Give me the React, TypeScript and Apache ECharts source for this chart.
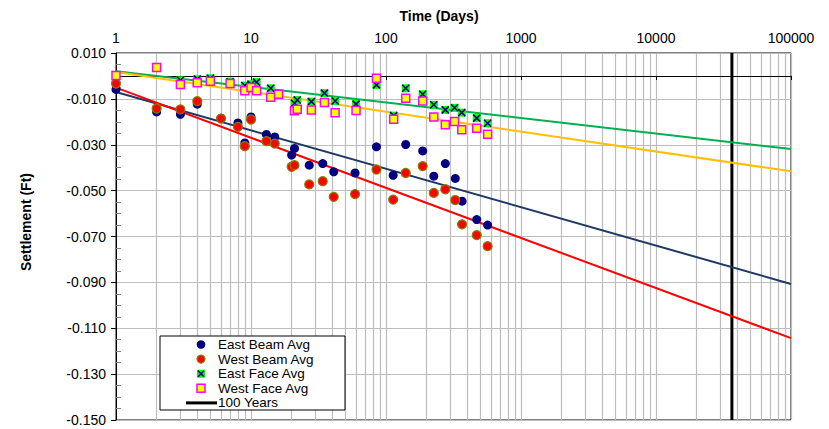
import React, { useEffect, useRef } from 'react';
import * as echarts from 'echarts';

const FONT = '"Liberation Sans", Arial, Helvetica, sans-serif';

// Beam measurement days and values (ft)
const beamDays = [1, 2, 3, 4, 6, 8, 9, 10, 13, 15, 20, 21, 27, 34, 41, 59, 85, 113, 140, 187, 226, 275, 326, 366, 470, 566];
const eastBeam = [-0.0059, -0.0157, -0.0167, -0.0123, -0.0184, -0.0205, -0.0292, -0.0179, -0.0255, -0.0266, -0.0345, -0.0316, -0.0389, -0.0382, -0.0418, -0.0423, -0.0309, -0.0433, -0.0299, -0.0327, -0.0437, -0.0382, -0.0447, -0.0546, -0.0626, -0.065];
const westBeam = [-0.0033, -0.0142, -0.0146, -0.011, -0.0186, -0.0222, -0.0306, -0.019, -0.0284, -0.0295, -0.0396, -0.0389, -0.0473, -0.0459, -0.0527, -0.0515, -0.0408, -0.0539, -0.0423, -0.0393, -0.051, -0.0494, -0.0541, -0.0647, -0.0694, -0.0742];

// Face measurement days and values (ft)
const eastFaceDays = [1, 3, 4, 5, 7, 9, 10, 11, 14, 21, 22, 28, 35, 42, 60, 85, 114, 140, 187, 226, 275, 322, 364, 470, 566];
const eastFace = [0.0, -0.0019, -0.0014, -0.001, -0.0025, -0.0042, -0.0036, -0.0027, -0.0054, -0.0119, -0.0105, -0.0112, -0.0075, -0.0109, -0.0123, -0.0039, -0.0173, -0.0054, -0.008, -0.0126, -0.0148, -0.0139, -0.016, -0.0184, -0.0206];
const westFaceDays = [1, 2, 3, 4, 5, 7, 9, 10, 11, 14, 16, 21, 22, 28, 35, 42, 60, 85, 114, 140, 187, 226, 275, 322, 364, 470, 566];
const westFace = [0.0002, 0.0037, -0.0037, -0.003, -0.0023, -0.0033, -0.0065, -0.005, -0.0065, -0.0093, -0.008, -0.0152, -0.0145, -0.0148, -0.0116, -0.016, -0.0151, -0.001, -0.0189, -0.0097, -0.0109, -0.0179, -0.0213, -0.0199, -0.0235, -0.0228, -0.0254];

// Logarithmic trend lines (end points at 1 and 100000 days)
const trendDays = [1, 100000];
const eastBeamTrend = [-0.007, -0.0907];
const westBeamTrend = [-0.0051, -0.1143];
const eastFaceTrend = [0.002, -0.0319];
const westFaceTrend = [0.0017, -0.0416];

// 100 years marker
const hundredYearsDay = 36500;
const yRange = [-0.15, 0.01];

// Axis settings
const xDecades = [1, 10, 100, 1000, 10000];
const xMinorSteps = [2, 3, 4, 5, 6, 7, 8, 9];
const xMin = 1;
const xMax = 100000;
const yInterval = 0.02;

const legendNames = ['East Beam Avg', 'West Beam Avg', 'East Face Avg', 'West Face Avg', '100 Years'];

const zip = (xs: number[], ys: number[]) => xs.map((x, i) => [x, ys[i]]);

export default function App() {
  const ref = useRef<HTMLDivElement>(null);

  useEffect(() => {
    const chart = echarts.init(ref.current!, undefined, { renderer: 'svg' });

    const minorGrid: number[] = [];
    xDecades.forEach((d) => xMinorSteps.forEach((m) => minorGrid.push(d * m)));

    const legendX = 160;
    const legendY = 336;
    const rowY = (i: number) => legendY + 8.5 + i * 14.6;
    const markX = 201;
    const textX = 218;

    const legendGraphics: any[] = [
      {
        type: 'rect',
        shape: { x: legendX, y: legendY, width: 185, height: 74 },
        style: { fill: '#fff', stroke: '#000', lineWidth: 1 },
        z: 100,
      },
      {
        type: 'circle',
        shape: { cx: markX, cy: rowY(0), r: 4.3 },
        style: { fill: '#000080' },
        z: 101,
      },
      {
        type: 'circle',
        shape: { cx: markX, cy: rowY(1), r: 4 },
        style: { fill: '#ff0000', stroke: '#808000', lineWidth: 1.2 },
        z: 101,
      },
      {
        type: 'rect',
        shape: { x: markX - 4, y: rowY(2) - 4, width: 8, height: 8 },
        style: { fill: '#00ff00' },
        z: 101,
      },
      {
        type: 'line',
        shape: { x1: markX - 3, y1: rowY(2) - 3, x2: markX + 3, y2: rowY(2) + 3 },
        style: { stroke: '#000080', lineWidth: 1.5 },
        z: 102,
      },
      {
        type: 'line',
        shape: { x1: markX + 3, y1: rowY(2) - 3, x2: markX - 3, y2: rowY(2) + 3 },
        style: { stroke: '#000080', lineWidth: 1.5 },
        z: 102,
      },
      {
        type: 'rect',
        shape: { x: markX - 4, y: rowY(3) - 4, width: 8, height: 8 },
        style: { fill: '#ffff00', stroke: '#ff00ff', lineWidth: 1.5 },
        z: 101,
      },
      {
        type: 'line',
        shape: { x1: 186, y1: rowY(4), x2: 217, y2: rowY(4) },
        style: { stroke: '#000', lineWidth: 3 },
        z: 101,
      },
      ...legendNames.map((name, i) => ({
        type: 'text',
        x: textX,
        y: rowY(i),
        style: {
          text: name,
          font: `13.5px ${FONT}`,
          lineHeight: 14,
          fill: '#000',
          textAlign: 'left',
          textVerticalAlign: 'middle',
        },
        z: 101,
      })),
    ];

    const option: any = {
      animation: false,
      backgroundColor: '#fff',
      textStyle: { fontFamily: FONT },
      grid: {
        left: 116,
        right: 38,
        top: 53,
        bottom: 9,
        show: true,
        borderColor: '#000',
        borderWidth: 1,
        backgroundColor: 'transparent',
      },
      xAxis: {
        type: 'log',
        logBase: 10,
        min: xMin,
        max: xMax,
        position: 'top',
        axisLine: { show: true, lineStyle: { color: '#000', width: 1 } },
        axisTick: { show: true, inside: true, length: 4, lineStyle: { color: '#000' } },
        axisLabel: {
          show: true,
          margin: 8,
          fontSize: 14,
          color: '#000',
          fontFamily: FONT,
          formatter: (v: number) => String(Math.round(v)),
        },
        splitLine: { show: true, lineStyle: { color: '#bdbdbd', width: 1.2 } },
      },
      yAxis: {
        type: 'value',
        min: yRange[0],
        max: yRange[1],
        interval: yInterval,
        axisLine: { show: true, onZero: false, lineStyle: { color: '#000', width: 1 } },
        axisTick: { show: true, inside: false, length: 5, lineStyle: { color: '#000' } },
        minorTick: { show: true, splitNumber: 4, length: -5, lineStyle: { color: '#808080' } },
        axisLabel: {
          margin: 10,
          fontSize: 14,
          color: '#000',
          fontFamily: FONT,
          formatter: (v: number) => v.toFixed(3),
        },
        splitLine: { show: true, lineStyle: { color: '#bdbdbd', width: 1.2 } },
      },
      graphic: [
        {
          type: 'text',
          x: 439,
          y: 16,
          style: {
            text: 'Time (Days)',
            font: `bold 14px ${FONT}`,
            fill: '#000',
            textAlign: 'center',
            textVerticalAlign: 'middle',
          },
        },
        {
          type: 'text',
          x: 26,
          y: 222,
          rotation: Math.PI / 2,
          style: {
            text: 'Settlement (Ft)',
            font: `bold 14px ${FONT}`,
            fill: '#000',
            textAlign: 'center',
            textVerticalAlign: 'middle',
          },
        },
        ...legendGraphics,
      ],
      series: [
        {
          name: 'gridlines',
          type: 'line',
          data: [],
          silent: true,
          z: 1,
          markLine: {
            silent: true,
            symbol: ['none', 'none'],
            label: { show: false },
            lineStyle: { color: '#bdbdbd', width: 1.2, type: 'solid' },
            data: [
              ...minorGrid.map((d) => ({ xAxis: d })),
              { yAxis: 0, lineStyle: { color: '#000', width: 1.2, type: 'solid' } },
            ],
          },
        },
        {
          name: '100 Years',
          type: 'line',
          data: [[hundredYearsDay, yRange[0]], [hundredYearsDay, yRange[1]]],
          symbol: 'none',
          lineStyle: { color: '#000', width: 3 },
          z: 8,
        },
        {
          name: 'East Face Trend',
          type: 'line',
          data: zip(trendDays, eastFaceTrend),
          symbol: 'none',
          lineStyle: { color: '#00b050', width: 2 },
          z: 8,
        },
        {
          name: 'West Face Trend',
          type: 'line',
          data: zip(trendDays, westFaceTrend),
          symbol: 'none',
          lineStyle: { color: '#ffc000', width: 2 },
          z: 8,
        },
        {
          name: 'East Beam Trend',
          type: 'line',
          data: zip(trendDays, eastBeamTrend),
          symbol: 'none',
          lineStyle: { color: '#1f3864', width: 2 },
          z: 8,
        },
        {
          name: 'West Beam Trend',
          type: 'line',
          data: zip(trendDays, westBeamTrend),
          symbol: 'none',
          lineStyle: { color: '#ff0000', width: 2 },
          z: 8,
        },
        {
          name: 'East Beam Avg',
          type: 'scatter',
          data: zip(beamDays, eastBeam),
          symbol: 'circle',
          symbolSize: 9,
          itemStyle: { color: '#000080', opacity: 1 },
          z: 10,
        },
        {
          name: 'West Beam Avg',
          type: 'scatter',
          data: zip(beamDays, westBeam),
          symbol: 'circle',
          symbolSize: 9,
          itemStyle: { color: '#ff0000', borderColor: '#808000', borderWidth: 1.2, opacity: 1 },
          z: 11,
        },
        {
          name: 'East Face Avg',
          type: 'scatter',
          data: zip(eastFaceDays, eastFace),
          symbol: 'rect',
          symbolSize: 8,
          itemStyle: { color: '#00ff00', opacity: 1 },
          z: 12,
        },
        {
          name: 'East Face Avg X',
          type: 'scatter',
          data: zip(eastFaceDays, eastFace),
          symbol: 'path://M0,0L10,10M10,0L0,10',
          symbolSize: 7,
          itemStyle: { color: 'transparent', borderColor: '#000080', borderWidth: 1.5, opacity: 1 },
          z: 13,
        },
        {
          name: 'West Face Avg',
          type: 'scatter',
          data: zip(westFaceDays, westFace),
          symbol: 'rect',
          symbolSize: 8,
          itemStyle: { color: '#ffff00', borderColor: '#ff00ff', borderWidth: 1.5, opacity: 1 },
          z: 14,
        },
      ],
    };

    chart.setOption(option);
    return () => chart.dispose();
  }, []);

  return (
    <div
      ref={ref}
      style={{ position: 'fixed', left: 0, top: 0, width: 829, height: 429, background: '#fff' }}
    />
  );
}
